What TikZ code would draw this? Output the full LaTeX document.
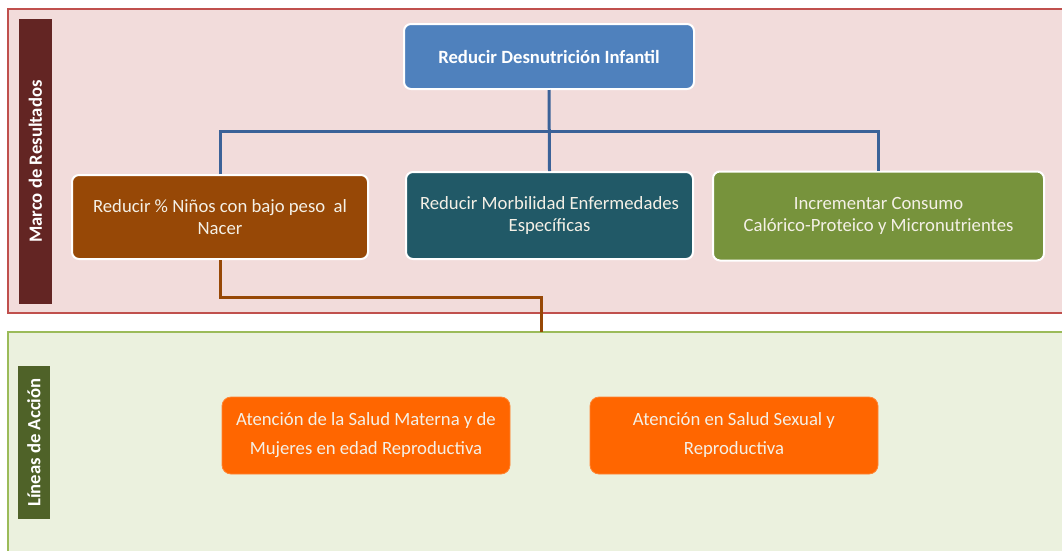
\documentclass[tikz,border=0pt]{standalone}
\usepackage{fontspec}
\setmainfont{Carlito}
\definecolor{panAfill}{HTML}{F2DCDB}
\definecolor{panAdraw}{HTML}{C0504D}
\definecolor{panBfill}{HTML}{EBF1DE}
\definecolor{panBdraw}{HTML}{9BBB59}
\definecolor{barA}{HTML}{632523}
\definecolor{barB}{HTML}{4F6228}
\definecolor{cBlue}{HTML}{4F81BD}
\definecolor{cBrown}{HTML}{974806}
\definecolor{cTeal}{HTML}{215967}
\definecolor{cGreen}{HTML}{77933C}
\definecolor{cOrange}{HTML}{FF6600}
\definecolor{lnBlue}{HTML}{3B6298}
\definecolor{txtLight}{HTML}{F4F0E6}
\begin{document}
\begin{tikzpicture}[x=1pt,y=-1pt,
  box/.style={rounded corners=7pt, draw=white, line width=2pt, align=center,
    text=txtLight, font=\fontsize{18.7}{22}\selectfont, inner sep=0pt},
  obox/.style={rounded corners=9pt, fill=cOrange, draw=cOrange!80!white, line width=0.8pt,
    align=center, text=txtLight, font=\fontsize{18.7}{29}\selectfont, inner sep=0pt,
    minimum width=288pt, minimum height=77pt},
  sidebar/.style={inner sep=0pt, text=white, font=\fontsize{18.7}{20}\selectfont\bfseries},
  bline/.style={draw=lnBlue, line width=3pt},
  rline/.style={draw=cBrown, line width=3pt}
]
\useasboundingbox (0,0) rectangle (1062,550);
\fill[white] (0,0) rectangle (1062,550);
\begin{scope}
\clip (0,0) rectangle (1062,550);
\draw[fill=panAfill, draw=panAdraw, line width=1.8pt] (8,9) rectangle (1080,313);
\draw[fill=panBfill, draw=panBdraw, line width=1.8pt] (8,332) rectangle (1080,570);
\end{scope}
% side bars
\node[sidebar, fill=barA, minimum width=33pt, minimum height=285pt] (barTop) at (35.5,161.5)
  {\rotatebox{90}{Marco de Resultados}};
\node[sidebar, fill=barB, minimum width=32pt, minimum height=153pt] (barBot) at (34,442.5)
  {\rotatebox{90}{Líneas de Acción}};
% boxes
\node[box, fill=cBlue, minimum width=290pt, minimum height=65pt, font=\fontsize{18.7}{22}\selectfont\bfseries, text=white]
  (top) at (549,56.5) {Reducir Desnutrición Infantil};
\node[box, fill=cBrown, minimum width=296pt, minimum height=84pt] (brown) at (220,217)
  {Reducir \% Niños con bajo peso~ al\\Nacer};
\node[box, fill=cTeal, minimum width=287pt, minimum height=87pt] (teal) at (549.5,215.5)
  {Reducir Morbilidad Enfermedades\\Específicas};
\node[box, fill=cGreen, minimum width=331pt, minimum height=89pt] (green) at (878.5,216)
  {Incrementar Consumo\\Calórico-Proteico y Micronutrientes};
\node[obox] (or1) at (366,435.5) {Atención de la Salud Materna y de\\Mujeres en edad Reproductiva};
\node[obox] (or2) at (734,435.5) {Atención en Salud Sexual y\\Reproductiva};
% connectors
\coordinate (hub) at (549,131);
\coordinate (lnk) at (541,332);
\draw[bline] (top.south) -- (teal.north);
\draw[bline] (brown.north) |- (hub) -| (green.north);
\draw[rline] (brown.south) -- ++(0,37) -| (lnk);
\end{tikzpicture}
\end{document}
